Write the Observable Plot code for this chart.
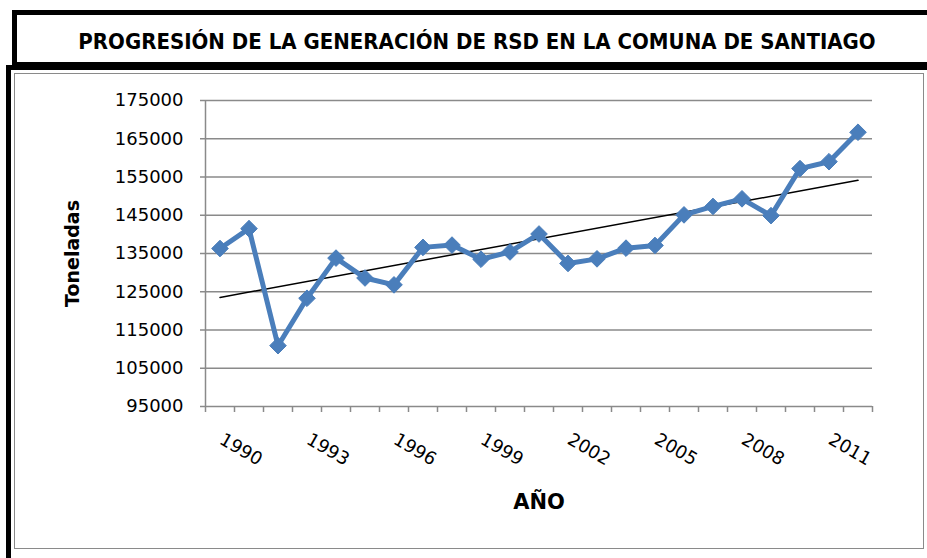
<!DOCTYPE html>
<html>
<head>
<meta charset="utf-8">
<script src="https://cdn.jsdelivr.net/npm/d3@7"></script>
<script src="https://cdn.jsdelivr.net/npm/@observablehq/plot@0.6"></script>
<style>
  html, body { margin: 0; padding: 0; background: #fff; }
  #wrap { position: relative; width: 927px; height: 558px; overflow: hidden; background: #fff; }
  .box { position: absolute; box-sizing: border-box; }
  #titlebox { left: 12px; top: 10px; width: 960px; height: 57px; border: 5px solid #000; }
  #chartbox { left: 6px; top: 65px; width: 960px; height: 560px; border-left: 5px solid #000; border-top: 5px solid #000; }
  #inner { left: 14px; top: 73px; width: 910px; height: 476px; border: 1.5px solid #8a8a8a; }
  #title { position: absolute; left: 0; width: 954px; top: 27px; text-align: center;
           font-family: "DejaVu Sans Condensed", "DejaVu Sans", sans-serif; font-stretch: condensed;
           font-weight: bold; font-size: 22px; line-height: 30px; color: #000; white-space: nowrap; }
  #plot { position: absolute; left: 0; top: 0; }
</style>
</head>
<body>
<div id="wrap">
  <div class="box" id="titlebox"></div>
  <div class="box" id="chartbox"></div>
  <div class="box" id="inner"></div>
  <div id="title">PROGRESIÓN DE LA GENERACIÓN DE RSD EN LA COMUNA DE SANTIAGO</div>
  <div id="plot"></div>
</div>
<script>
const years = [1989, 1990, 1991, 1992, 1993, 1994, 1995, 1996, 1997, 1998, 1999, 2000,
               2001, 2002, 2003, 2004, 2005, 2006, 2007, 2008, 2009, 2010, 2011];
const toneladas = [136300, 141500, 110900, 123300, 133800, 128600, 126800, 136600, 137200, 133500, 135400, 140100,
                   132400, 133600, 136400, 137100, 145100, 147300, 149300, 144900, 157200, 159000, 166700];
const xTickLabels = [1990, 1993, 1996, 1999, 2002, 2005, 2008, 2011];
const yTicks = [95000, 105000, 115000, 125000, 135000, 145000, 155000, 165000, 175000];

const data = years.map((y, i) => ({year: y, value: toneladas[i]}));
const boundaries = d3.range(years[0] - 0.5, years[years.length - 1] + 1, 1);

const gray = "#8a8a8a";
const blue = "#4a7ebb";

const chart = Plot.plot({
  width: 927,
  height: 558,
  marginLeft: 205,
  marginRight: 55,
  marginTop: 100,
  marginBottom: 152,
  style: {fontFamily: "DejaVu Sans, sans-serif", fontSize: "18px", color: "#000", background: "transparent", overflow: "visible"},
  x: {domain: [years[0] - 0.5, years[years.length - 1] + 0.5]},
  y: {domain: [yTicks[0], yTicks[yTicks.length - 1]]},
  marks: [
    Plot.gridY(yTicks.slice(1), {stroke: gray, strokeOpacity: 1, strokeWidth: 1.5}),
    Plot.ruleY([yTicks[0]], {stroke: gray, strokeWidth: 1.5}),
    Plot.ruleX([years[0] - 0.5], {stroke: gray, strokeWidth: 1.5}),
    Plot.axisY(yTicks, {tickSize: 5, tickPadding: 17, stroke: gray, strokeWidth: 1.5, tickFormat: d => String(d), fill: "#000", fontSize: 18, label: null}),
    Plot.axisX(boundaries, {tickSize: 6, stroke: gray, strokeWidth: 1.5, tickFormat: () => "", label: null}),
    Plot.text(xTickLabels, {x: d => d, y: () => yTicks[0], text: d => String(d), rotate: 30, dx: -8, dy: 43,
                            textAnchor: "middle", fontSize: 18, fill: "#000"}),
    Plot.text(["Toneladas"], {frameAnchor: "left", dx: -133, rotate: -90, textAnchor: "middle", fontWeight: "bold", fontSize: 19, fill: "#000"}),
    Plot.text(["AÑO"], {frameAnchor: "bottom", dy: 102, fontWeight: "bold", fontSize: 21, fill: "#000"}),
    Plot.linearRegressionY(data, {x: "year", y: "value", stroke: "#000", strokeWidth: 1.5, ci: 0}),
    Plot.line(data, {x: "year", y: "value", stroke: blue, strokeWidth: 5}),
    Plot.dot(data, {x: "year", y: "value", symbol: "diamond2", r: 7.5, fill: blue, stroke: blue, strokeWidth: 1})
  ]
});
document.getElementById("plot").appendChild(chart);
</script>
</body>
</html>
